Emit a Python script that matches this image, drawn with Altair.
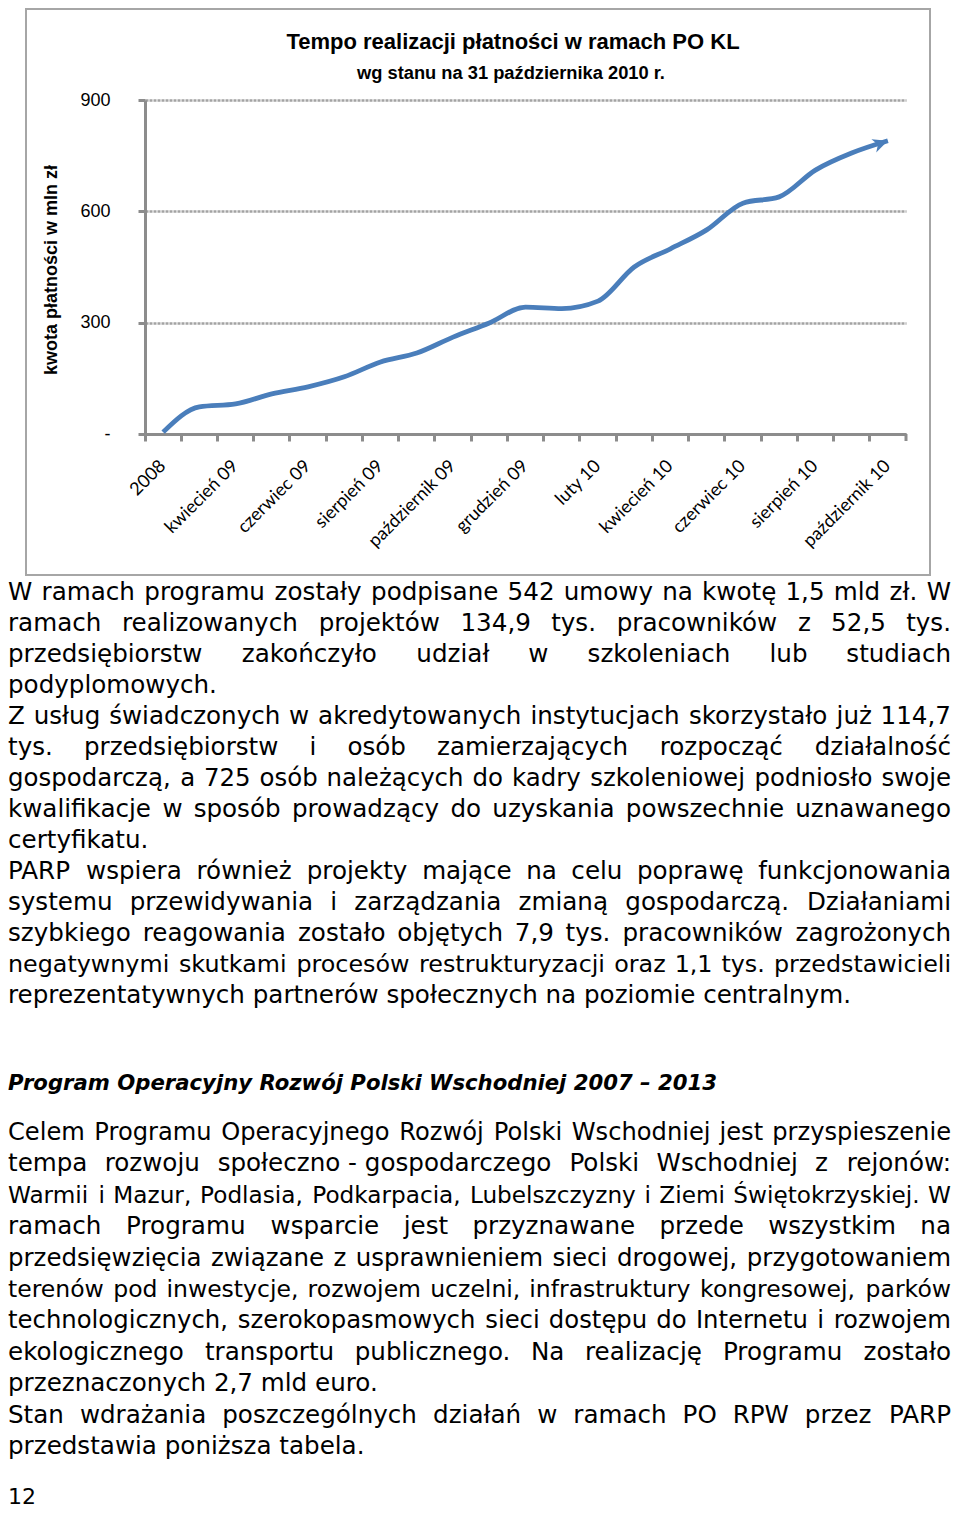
import altair as alt
import pandas as pd

# ---------------- data ----------------
categories = ["2008", "marzec 09", "kwiecień 09", "maj 09", "czerwiec 09", "lipiec 09",
              "sierpień 09", "wrzesień 09", "październik 09", "listopad 09", "grudzień 09",
              "styczeń 10", "luty 10", "marzec 10", "kwiecień 10", "maj 10", "czerwiec 10",
              "lipiec 10", "sierpień 10", "wrzesień 10", "październik 10"]
payments = [5, 73, 81, 108, 127, 154, 194, 218, 261, 299, 342, 338, 358,
            450, 499, 550, 622, 639, 711, 757, 790]
y_ticks = [0, 300, 600, 900]
shown_labels = categories[::2]

chart_title = "Tempo realizacji płatności w ramach PO KL"
chart_subtitle = "wg stanu na 31 października 2010 r."
y_title = "kwota płatności w mln zł"

para1 = [
    "W ramach programu zostały podpisane 542 umowy na kwotę 1,5 mld zł. W",
    "ramach realizowanych projektów 134,9 tys. pracowników z 52,5 tys.",
    "przedsiębiorstw zakończyło udział w szkoleniach lub studiach",
    "podyplomowych.",
    "Z usług świadczonych w akredytowanych instytucjach skorzystało już 114,7",
    "tys. przedsiębiorstw i osób zamierzających rozpocząć działalność",
    "gospodarczą, a 725 osób należących do kadry szkoleniowej podniosło swoje",
    "kwalifikacje w sposób prowadzący do uzyskania powszechnie uznawanego",
    "certyfikatu.",
    "PARP wspiera również projekty mające na celu poprawę funkcjonowania",
    "systemu przewidywania i zarządzania zmianą gospodarczą. Działaniami",
    "szybkiego reagowania zostało objętych 7,9 tys. pracowników zagrożonych",
    "negatywnymi skutkami procesów restrukturyzacji oraz 1,1 tys. przedstawicieli",
    "reprezentatywnych partnerów społecznych na poziomie centralnym.",
]
para1_justified = [True, True, True, False, True, True, True, True, False,
                   True, True, True, True, False]

heading = "Program Operacyjny Rozwój Polski Wschodniej 2007 – 2013"

para2 = [
    "Celem Programu Operacyjnego Rozwój Polski Wschodniej jest przyspieszenie",
    "tempa rozwoju społeczno\u00a0-\u00a0gospodarczego Polski Wschodniej z rejonów:",
    "Warmii i Mazur, Podlasia, Podkarpacia, Lubelszczyzny i Ziemi Świętokrzyskiej. W",
    "ramach Programu wsparcie jest przyznawane przede wszystkim na",
    "przedsięwzięcia związane z usprawnieniem sieci drogowej, przygotowaniem",
    "terenów pod inwestycje, rozwojem uczelni, infrastruktury kongresowej, parków",
    "technologicznych, szerokopasmowych sieci dostępu do Internetu i rozwojem",
    "ekologicznego transportu publicznego. Na realizację Programu zostało",
    "przeznaczonych 2,7 mld euro.",
    "Stan wdrażania poszczególnych działań w ramach PO RPW przez PARP",
    "przedstawia poniższa tabela.",
]
para2_justified = [True] * 8 + [False, True, False]

page_number = "12"

# ---------------- layout ----------------
OX, OY = 145, 100          # page position of plot origin
W, H = 761, 334            # plot area
TOTAL_W, TOTAL_H = 944, 1503


def px(x):
    return x - OX


def py(y):
    return y - OY


GRAY = "#8c8c8c"
GRID = "#a3a3a3"
BLUE = "#4a7ebb"
FRAME = "#a6a6a6"

BODY_FONT = "DejaVu Sans"
BODY_SIZE = 24.6
LEFT, RIGHT = 8, 951

# approximate advance widths (em) used to spread justified words
CW = {' ': .318, '\u00a0': .318, ',': .318, '.': .318, '-': .361, ':': .337, '–': .5,
      'a': .613, 'ą': .613, 'b': .635, 'c': .55, 'ć': .55, 'd': .635, 'e': .615, 'ę': .615,
      'f': .352, 'g': .635, 'h': .634, 'i': .278, 'j': .278, 'k': .579, 'l': .278, 'ł': .3,
      'm': .974, 'n': .634, 'ń': .634, 'o': .612, 'ó': .612, 'p': .635, 'q': .635, 'r': .411,
      's': .521, 'ś': .521, 't': .392, 'u': .634, 'v': .592, 'w': .818, 'x': .592, 'y': .592,
      'z': .525, 'ź': .525, 'ż': .525,
      'A': .684, 'C': .698, 'D': .770, 'E': .632, 'I': .295, 'K': .656, 'L': .557, 'M': .863,
      'N': .748, 'O': .787, 'P': .603, 'R': .695, 'S': .635, 'Ś': .635, 'T': .611, 'W': .989,
      'Z': .685}
for d in "0123456789":
    CW[d] = .636


def est(s, size):
    return sum(CW.get(c, 0.6) for c in s) * size


rows = []
avail = RIGHT - LEFT
for lines, just, base, step in ((para1, para1_justified, 600, 31.0),
                                (para2, para2_justified, 1140, 31.4)):
    for i, (line, j) in enumerate(zip(lines, just)):
        yb = py(base + step * i)
        if not j:
            rows.append(dict(t=line, x=px(LEFT), y=yb, a="left", fs=BODY_SIZE))
            continue
        words = line.split(" ")
        size = BODY_SIZE
        natural = est(line, size)
        if natural > avail * 0.995:
            size = size * avail * 0.99 / natural
        widths = [est(w, size) for w in words]
        gap = (avail - sum(widths)) / (len(words) - 1)
        x = LEFT
        for k, (w, wd) in enumerate(zip(words, widths)):
            if k == 0:
                rows.append(dict(t=w, x=px(x), y=yb, a="left", fs=size))
            elif k == len(words) - 1:
                rows.append(dict(t=w, x=px(RIGHT), y=yb, a="right", fs=size))
            else:
                rows.append(dict(t=w, x=px(x + wd / 2), y=yb, a="center", fs=size))
            x += wd + gap
rows.append(dict(t=page_number, x=px(LEFT), y=py(1504), a="left", fs=22))
body = pd.DataFrame(rows)

one = pd.DataFrame({"k": [0]})
df = pd.DataFrame({"cat": categories, "val": payments})

xs = alt.Scale(type="band", domain=categories, paddingInner=0, paddingOuter=0)
ys = alt.Scale(domain=[0, 900], nice=False, zero=True)

# ---------------- chart parts ----------------
frame = alt.Chart(one).mark_rect(fillOpacity=0, stroke=FRAME, strokeWidth=2).encode(
    x=alt.value(px(26)), x2=alt.value(px(930)), y=alt.value(-91), y2=alt.value(py(575)))

line = alt.Chart(df).mark_line(color=BLUE, strokeWidth=4.8, interpolate="monotone",
                               strokeCap="butt").encode(
    x=alt.X("cat:N", scale=xs, bandPosition=0.5,
            axis=alt.Axis(orient="bottom", values=shown_labels, labelAngle=-45,
                          labelAlign="right", labelBaseline="middle", labelPadding=29,
                          ticks=False, tickSize=0, domain=True, domainColor=GRAY,
                          domainWidth=3, grid=False, labelFont="Lato", labelFontSize=18,
                          labelColor="#000", labelOverlap=False, title=None)),
    y=alt.Y("val:Q", scale=ys,
            axis=alt.Axis(orient="left", values=y_ticks, grid=True, gridColor=GRID,
                          gridDash=[3, 1], gridWidth=2.5, ticks=True, tickSize=7,
                          tickWidth=3, tickColor=GRAY, domain=True, domainColor=GRAY,
                          domainWidth=3, labelFont="Liberation Sans", labelFontSize=18,
                          labelColor="#000", labelPadding=28,
                          labelExpr="datum.value == 0 ? '-' : datum.label", title=None)))

tick_axis = alt.Chart(df).mark_line(strokeOpacity=0).encode(
    x=alt.X("cat:N", scale=xs,
            axis=alt.Axis(orient="bottom", bandPosition=0, ticks=True, tickSize=7,
                          tickWidth=3, tickColor=GRAY, labels=False, domain=False,
                          grid=False, title=None)),
    y=alt.Y("val:Q", scale=ys, axis=None))

last_tick = alt.Chart(one).mark_rule(color=GRAY, strokeWidth=3).encode(
    x=alt.value(W), y=alt.value(H), y2=alt.value(H + 7))

arrow = alt.Chart(df.tail(1)).mark_point(
    shape="M-1.7,-0.8 L0,0 L-1.7,0.8 L-1.2,0 Z", size=310, filled=True, color=BLUE,
    opacity=1, angle=340).encode(
    x=alt.X("cat:N", scale=xs, bandPosition=0.5, axis=None),
    y=alt.Y("val:Q", scale=ys, axis=None))

TITLE_FONT = "Liberation Sans"
title_t = alt.Chart(one).mark_text(text=chart_title, font=TITLE_FONT,
                                   fontWeight="bold", fontSize=22, align="center",
                                   baseline="alphabetic", color="#000").encode(
    x=alt.value(px(513)), y=alt.value(py(49)))
subtitle_t = alt.Chart(one).mark_text(text=chart_subtitle, font=TITLE_FONT,
                                      fontWeight="bold", fontSize=18.3, align="center",
                                      baseline="alphabetic", color="#000").encode(
    x=alt.value(px(511)), y=alt.value(py(79)))
ytitle_t = alt.Chart(one).mark_text(text=y_title, font=TITLE_FONT,
                                    fontWeight="bold", fontSize=18, align="center",
                                    baseline="alphabetic", angle=270, color="#000").encode(
    x=alt.value(px(57)), y=alt.value(py(270)))


def body_layer(align):
    return alt.Chart(body).transform_filter(alt.datum.a == align).mark_text(
        font=BODY_FONT, align=align, baseline="alphabetic", color="#000").encode(
        x=alt.X("x:Q", scale=None, axis=None),
        y=alt.Y("y:Q", scale=None, axis=None),
        size=alt.Size("fs:Q", scale=None, legend=None),
        text="t:N")


heading_t = alt.Chart(one).mark_text(text=heading, font=BODY_FONT, fontWeight="bold",
                                     fontStyle="italic", fontSize=21.2, align="left",
                                     baseline="alphabetic", color="#000").encode(
    x=alt.value(px(LEFT)), y=alt.value(py(1090)))

chart = alt.layer(
    frame, line, tick_axis, last_tick, arrow, title_t, subtitle_t, ytitle_t,
    body_layer("left"), body_layer("center"), body_layer("right"), heading_t
).resolve_scale(x="independent", y="independent").properties(
    width=W, height=H,
    padding={"left": OX - 8, "top": OY - 8, "right": TOTAL_W - W - (OX - 8),
             "bottom": TOTAL_H - H - (OY - 8)},
    autosize=alt.AutoSizeParams(type="none"),
    background="#ffffff",
).configure_view(strokeWidth=0)

chart.save("out.html", embed_options={"renderer": "svg", "actions": False})
